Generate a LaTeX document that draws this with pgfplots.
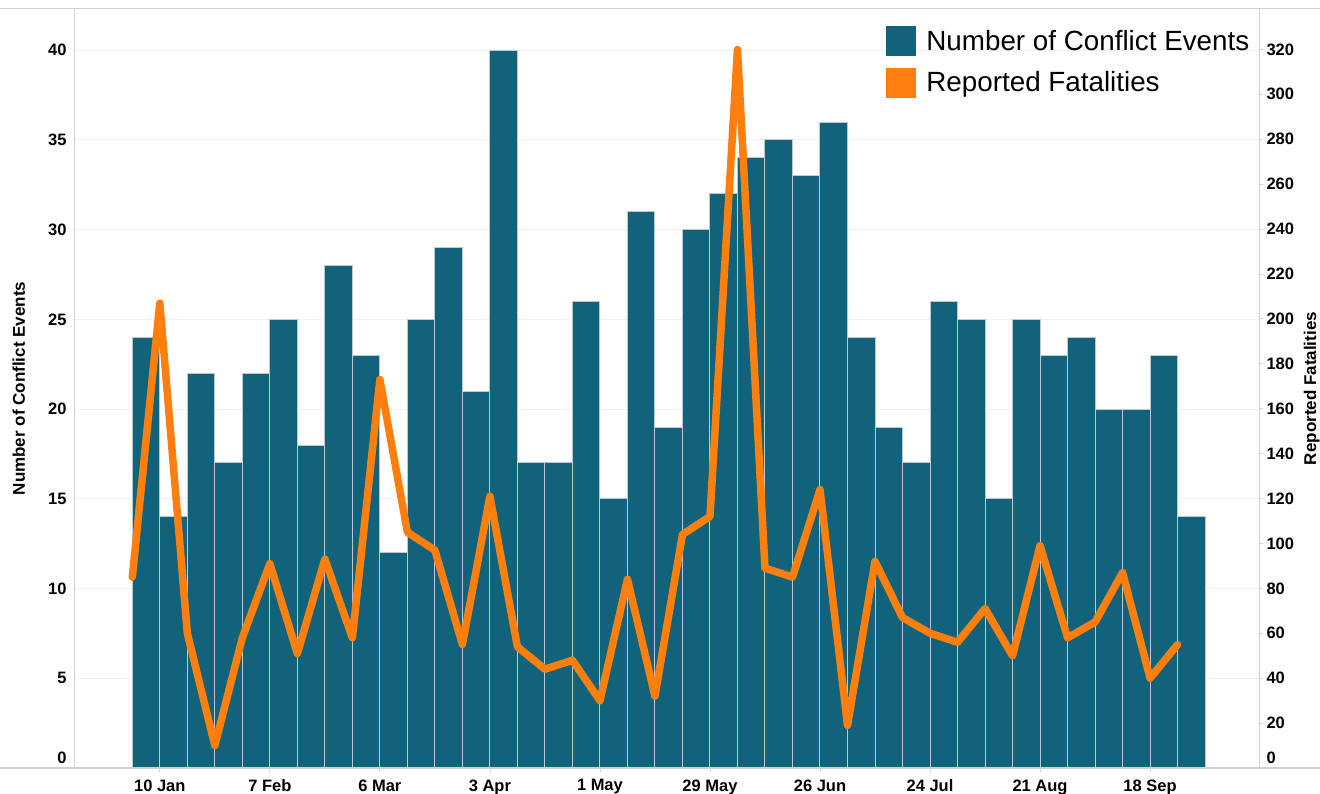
\documentclass[border=0pt]{standalone}
\usepackage{pgfplots}
\pgfplotsset{compat=1.18}
\usepackage{fontspec}
\setmainfont{Liberation Sans}
\definecolor{barcol}{RGB}{16,99,122}
\definecolor{edgecol}{RGB}{190,200,206}
\definecolor{linecol}{RGB}{255,127,14}
\definecolor{gridcol}{RGB}{240,240,240}
\definecolor{framecol}{RGB}{208,208,208}
\begin{document}
\begin{tikzpicture}
\begin{axis}[name=ax, scale only axis, width=1185pt, height=759pt,
  xmin=-2.12, xmax=40.96, ymin=0, ymax=42.3,
  axis line style={draw=none},
  /pgf/number format/assume math mode=true,
  xtick={1,5,...,37},
  xticklabels={10 Jan,7 Feb,6 Mar,3 Apr,1 May,29 May,26 Jun,24 Jul,21 Aug,18 Sep},
  xtick pos=bottom, tick align=outside, major tick length=4pt,
  x tick style={draw=framecol, line width=0.8pt},
  xticklabel style={font=\fontsize{16.5}{18}\selectfont\bfseries, yshift=-4pt},
  ytick={5,10,...,40}, ytick pos=left,
  y tick style={draw=none},
  extra y ticks={0},
  extra y tick style={yticklabel style={yshift=10pt}},
  yticklabel style={font=\fontsize{16.5}{18}\selectfont\bfseries},
  ymajorgrids, grid style={draw=gridcol, line width=1pt},
  ylabel={Number of Conflict Events},
  ylabel style={at={(axis description cs:-0.0465,0.5)}, anchor=center, font=\fontsize{17}{19}\selectfont\bfseries},
]
\addplot[ybar, bar width=1, bar shift=0pt, fill=barcol, draw=edgecol, line width=1pt] coordinates {
(0.5,24) (1.5,14) (2.5,22) (3.5,17) (4.5,22) (5.5,25) (6.5,18) (7.5,28) (8.5,23) (9.5,12)
(10.5,25) (11.5,29) (12.5,21) (13.5,40) (14.5,17) (15.5,17) (16.5,26) (17.5,15) (18.5,31) (19.5,19)
(20.5,30) (21.5,32) (22.5,34) (23.5,35) (24.5,33) (25.5,36) (26.5,24) (27.5,19) (28.5,17) (29.5,26)
(30.5,25) (31.5,15) (32.5,25) (33.5,23) (34.5,24) (35.5,20) (36.5,20) (37.5,23) (38.5,14)
};
\end{axis}
\begin{axis}[scale only axis, width=1185pt, height=759pt,
  xmin=-2.12, xmax=40.96, ymin=0, ymax=338,
  axis x line=none, axis y line*=right,
  axis line style={draw=none},
  /pgf/number format/assume math mode=true,
  ytick={20,40,...,320},
  tick align=outside, major tick length=4pt,
  y tick style={draw=framecol, line width=0.8pt},
  extra y ticks={0},
  extra y tick style={yticklabel style={yshift=10pt}},
  yticklabel style={font=\fontsize{16.5}{18}\selectfont\bfseries},
  ylabel={Reported Fatalities},
  ylabel style={at={(axis description cs:1.0445,0.5)}, anchor=center, rotate=0, font=\fontsize{17}{19}\selectfont\bfseries},
  legend style={at={(0.6825,0.98)}, anchor=north west, draw=none, fill=none,
    font=\fontsize{27.8}{30}\selectfont, row sep=12pt,
    /tikz/every odd column/.append style={column sep=9pt}},
  legend cell align=left,
]
\addlegendimage{legend image code/.code={\fill[barcol] (0pt,-14.5pt) rectangle (29pt,14.5pt);}}
\addlegendentry{Number of Conflict Events}
\addlegendimage{legend image code/.code={\fill[linecol] (0pt,-14.5pt) rectangle (29pt,14.5pt);}}
\addlegendentry{Reported Fatalities}
\addplot[forget plot, draw=linecol, line width=7.5pt, line join=round, line cap=round] coordinates {
(0,85) (1,207) (2,60) (3,10) (4,58) (5,91) (6,51) (7,93) (8,58) (9,173)
(10,105) (11,97) (12,55) (13,121) (14,54) (15,44) (16,48) (17,30) (18,84) (19,32)
(20,104) (21,112) (22,320) (23,89) (24,85) (25,124) (26,19) (27,92) (28,67) (29,60)
(30,56) (31,71) (32,50) (33,99) (34,58) (35,65) (36,87) (37,40) (38,55)
};
\end{axis}
\draw[framecol, line width=1pt] ([xshift=-74pt]ax.north west) -- ([xshift=61pt]ax.north east);
\draw[framecol, line width=1.3pt] ([xshift=-74pt]ax.south west) -- ([xshift=61pt]ax.south east);
\draw[framecol, line width=1pt] (ax.south west) -- (ax.north west);
\draw[framecol, line width=1pt] (ax.south east) -- (ax.north east);
\pgfresetboundingbox
\path[use as bounding box] ([shift={(-74pt,-25pt)}]ax.south west) rectangle ([shift={(1246pt,768pt)}]ax.south west);
\end{tikzpicture}
\end{document}
